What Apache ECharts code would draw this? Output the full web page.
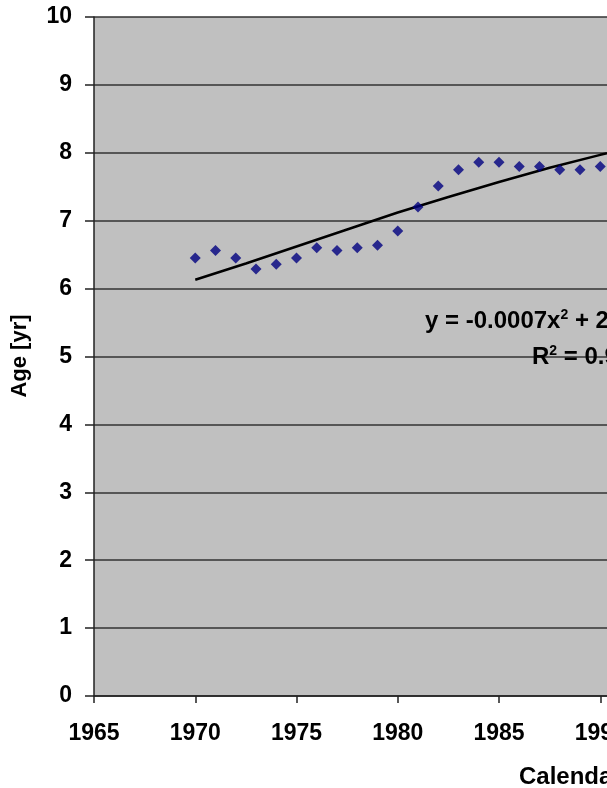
<!DOCTYPE html>
<html><head><meta charset="utf-8">
<script src="https://cdn.jsdelivr.net/npm/echarts@6/dist/echarts.min.js"></script>
<style>html,body{margin:0;padding:0;background:#fff;}#c{width:607px;height:788px;}</style>
</head><body><div id="c"></div>
<script>
const years = [1970,1971,1972,1973,1974,1975,1976,1977,1978,1979,1980,1981,1982,1983,1984,1985,1986,1987,1988,1989,1990];
const ages  = [6.45,6.56,6.45,6.29,6.36,6.45,6.60,6.56,6.60,6.64,6.85,7.20,7.51,7.75,7.86,7.86,7.80,7.80,7.75,7.75,7.80];
const trendYears = [1970,1972.5,1975,1977.5,1980,1982.5,1985,1987.5,1990,1991];
const trendAges  = [6.13,6.37,6.62,6.87,7.12,7.35,7.57,7.78,7.97,8.04];
const xTicks = [1965,1970,1975,1980,1985,1990,1995,2000,2005];
const yTicks = [0,1,2,3,4,5,6,7,8,9,10];
const eqText = 'y = -0.0007x{sup|2} + 2';
const r2Text = 'R{sup|2} = 0.9';
const yName = 'Age [yr]';
const xName = 'Calendar Year';

const chart = echarts.init(document.getElementById('c'), null, {renderer:'canvas'});
const font = '"Liberation Sans", Arial, sans-serif';
chart.setOption({
  animation:false,
  backgroundColor:'#ffffff',
  grid:{left:94, top:17, bottom:92, right:-297, show:true, backgroundColor:'#c0c0c0', borderWidth:0,
    containLabel:false, outerBoundsMode:'none'},
  xAxis:{type:'value', min:xTicks[0], max:xTicks[xTicks.length-1], interval:5,
    axisLine:{show:true, onZero:false, lineStyle:{color:'#222', width:1.5}},
    axisTick:{show:true, inside:false, length:7, lineStyle:{color:'#222', width:1.5}},
    axisLabel:{margin:26, fontSize:23, fontWeight:'bold', color:'#000', fontFamily:font, formatter:v=>String(v), hideOverlap:false},
    splitLine:{show:false}},
  yAxis:{type:'value', min:yTicks[0], max:yTicks[yTicks.length-1], interval:1,
    axisLine:{show:true, lineStyle:{color:'#222', width:1.5}},
    axisTick:{show:true, inside:false, length:9, lineStyle:{color:'#222', width:1.5}},
    axisLabel:{margin:22, fontSize:23, fontWeight:'bold', color:'#000', fontFamily:font},
    splitLine:{show:true, lineStyle:{color:'#333', width:1.5}}},
  series:[
    {type:'line', data:trendYears.map((x,i)=>[x,trendAges[i]]), showSymbol:false, symbol:'none',
      lineStyle:{color:'#000', width:2.5}, smooth:false, z:3},
    {type:'scatter', data:years.map((x,i)=>[x,ages[i]]), symbol:'diamond', symbolSize:[11,11],
      itemStyle:{color:'#000080'}, z:4}
  ],
  graphic:[
    {type:'text', left:425, top:308, z:10, style:{text:eqText, font:'bold 24px '+font, fill:'#000',
      rich:{sup:{fontSize:14, fontWeight:'bold', verticalAlign:'top', fill:'#000', padding:[0,0,12,0]}}}},
    {type:'text', left:532, top:344, z:10, style:{text:r2Text, font:'bold 24px '+font, fill:'#000',
      rich:{sup:{fontSize:14, fontWeight:'bold', verticalAlign:'top', fill:'#000', padding:[0,0,12,0]}}}},
    {type:'text', x:20, y:356, rotation:Math.PI/2, z:10, style:{text:yName, font:'bold 22px '+font, fill:'#000', align:'center', verticalAlign:'middle'}},
    {type:'text', x:519, y:777, z:10, style:{text:xName, font:'bold 24px '+font, fill:'#000', align:'left', verticalAlign:'middle'}}
  ]
});
</script></body></html>
